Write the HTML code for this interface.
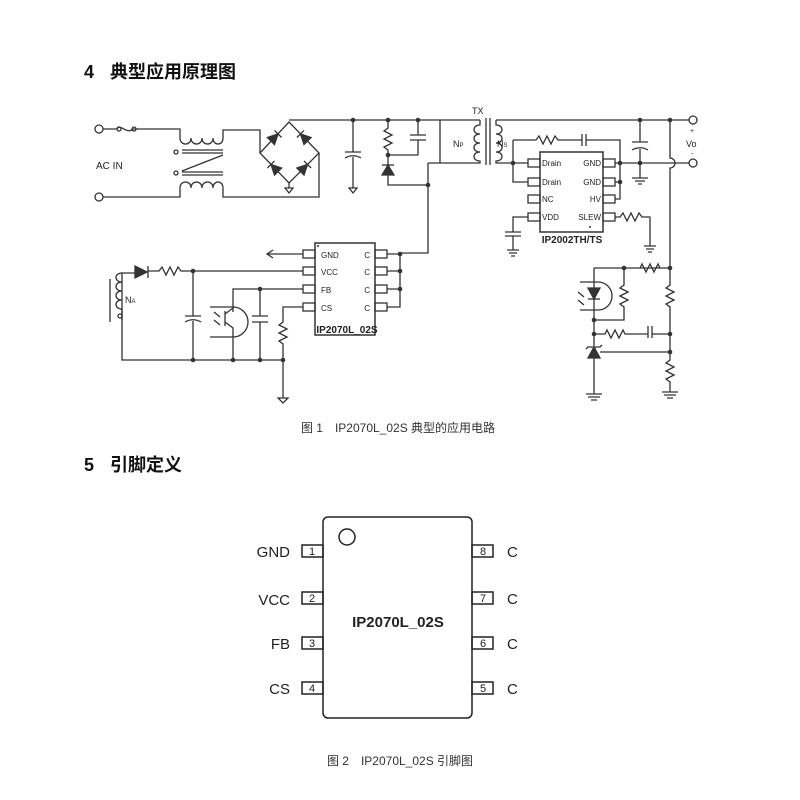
<!DOCTYPE html>
<html><head><meta charset="utf-8"><style>
body{margin:0;background:#fff;width:800px;height:800px;overflow:hidden}
svg{display:block}
</style></head><body>
<svg width="800" height="800" viewBox="0 0 800 800" font-family="Liberation Sans, Noto Sans CJK SC, sans-serif">
<text x="84" y="78" font-size="18" font-weight="bold" fill="#111">4</text>
<text x="110" y="78" font-size="18" font-weight="bold" fill="#111" font-family="Noto Sans CJK SC, sans-serif">典型应用原理图</text>
<text x="84" y="471" font-size="18" font-weight="bold" fill="#111">5</text>
<text x="110" y="471" font-size="18" font-weight="bold" fill="#111" font-family="Noto Sans CJK SC, sans-serif">引脚定义</text>
<text x="398" y="432" font-size="12" fill="#333" text-anchor="middle" font-family="Liberation Sans, Noto Sans CJK SC, sans-serif">图 1　IP2070L_02S 典型的应用电路</text>
<text x="400" y="765" font-size="12" fill="#333" text-anchor="middle" font-family="Liberation Sans, Noto Sans CJK SC, sans-serif">图 2　IP2070L_02S 引脚图</text>

<g stroke="#333" stroke-width="1.3" fill="none">
<circle cx="99" cy="129" r="4"/><circle cx="99" cy="197" r="4"/>
<path d="M103 129H117M117 129c3 -6 10 6 16 0M133 129H180V138"/>
<circle cx="119" cy="129" r="2"/><circle cx="134" cy="129" r="2"/>
<path d="M180 138c0 8 11 8 11 0c0 8 11 8 11 0c0 8 11 8 11 0c0 8 10 8 10 0V130H260V153"/>
<path d="M103 197H180V188c0 -8 11 -8 11 0c0 -8 11 -8 11 0c0 -8 11 -8 11 0c0 -8 10 -8 10 0V197H319V153"/>
<path d="M182 150H223M182 153H223M182 172H223M182 175H223M223 155L182 171"/>
<circle cx="176" cy="152" r="2"/><circle cx="176" cy="173" r="2"/>
<path d="M260 153L289 122L319 153L289 183Z"/>
<path d="M289 183V188"/><path d="M285 188H293L289 193Z"/>
<path d="M289 120H480"/>
<path d="M353 120V152M345 152H361M345 158c5 -3 11 -3 16 0M353 157V188"/><path d="M349 188H357L353 193Z"/>
<path d="M388 120V128l-4 3 8 4 -8 4 8 4 -8 4 4 3V155H418V140M410 140H426M410 135H426M418 135V120M388 155V185H428"/>
<path d="M428 163H440V120M428 163V253H400"/>
<path d="M480 120V125c-8 0 -8 9 0 9c-8 0 -8 9 0 9c-8 0 -8 9 0 9c-8 0 -8 9 0 9V163H440"/>
<path d="M486 118V165M490 118V165"/>
<path d="M496 120V125c8 0 8 9 0 9c8 0 8 9 0 9c8 0 8 9 0 9c8 0 8 9 0 9V163H528"/>
<path d="M496 120H689M513 140V182H528M513 140H536l3 -4 4 8 4 -8 4 8 4 -8 3 4H582M582 134V146M586 134V146M586 140H620V199H615M615 163H689M615 182H620"/>
<path d="M640 120V142M632 142H648M632 150c5 -3 11 -3 16 0M640 149V178M632 178H648M635 181H645M638 184H642"/>
<path d="M670 120V158a5 5 0 0 1 0 10V268"/>
<circle cx="693" cy="120" r="4"/><circle cx="693" cy="163" r="4"/>
<rect x="540" y="152" width="63" height="80" stroke-width="1.5"/>
<rect x="528" y="159" width="12" height="8"/><rect x="528" y="178" width="12" height="8"/><rect x="528" y="195" width="12" height="8"/><rect x="528" y="213" width="12" height="8"/>
<rect x="603" y="159" width="12" height="8"/><rect x="603" y="178" width="12" height="8"/><rect x="603" y="195" width="12" height="8"/><rect x="603" y="213" width="12" height="8"/>
<path d="M528 217H513V232M505 232H521M505 236H521M513 236V250M507 250H519M509 253H517M511 256H515"/>
<path d="M615 217H620l3 -4 4 8 4 -8 4 8 4 -8 3 4H650V246M644 246H656M646 249H654M648 252H652"/>
<rect x="315" y="243" width="60" height="92" stroke-width="1.5"/>
<rect x="303" y="250" width="12" height="8"/><rect x="303" y="267" width="12" height="8"/><rect x="303" y="285" width="12" height="8"/><rect x="303" y="303" width="12" height="8"/>
<rect x="375" y="250" width="12" height="8"/><rect x="375" y="267" width="12" height="8"/><rect x="375" y="285" width="12" height="8"/><rect x="375" y="303" width="12" height="8"/>
<path d="M387 254H400V307H387M387 271H400M387 289H400"/>
<path d="M303 254H268M273 250L267 254L273 258"/>
<path d="M303 271H193M193 271H181l-3 -4 -4 8 -4 -8 -4 8 -4 -8 -3 4H148M122 320V273H135"/>
<path d="M135 266V278L147 272Z" fill="#333"/><path d="M148 266V278"/>
<path d="M122 273c-8 0 -8 9 0 9c-8 0 -8 9 0 9c-8 0 -8 9 0 9c-8 0 -8 9 0 9V320"/>
<path d="M110 279V322"/><circle cx="120" cy="316" r="2"/>
<path d="M122 320V360H283M193 271V316M185 316H201M185 322c5 -3 11 -3 16 0M193 321V360"/>
<path d="M303 289H233V307M260 289V316M252 316H268M252 322H268M260 322V360"/>
<path d="M225 311V326M225 314L233 308V312M225 322L233 328V360M210 307H233a12 12 0 0 1 0 30H210"/>
<path d="M214 312l6 5M214 320l6 5"/>
<path d="M303 307H283V322l-4 3 8 4 -8 4 8 4 -8 4 4 3V398M278 398H288L283 403Z"/>
<path d="M594 268H670M640 268l2 -4 4 8 4 -8 4 8 4 -8 2 4M594 268V334M624 268V285l-4 3 8 4 -8 4 8 4 -8 4 4 3V320H594"/>
<path d="M588 288H600L594 299Z" fill="#333"/><path d="M588 299H600"/>
<path d="M580 282H598a14 14 0 0 1 0 28H580"/><path d="M578 292l6 5M578 300l6 5"/>
<path d="M594 334H605l2 -4 4 8 4 -8 4 8 4 -8 2 4H648M648 326V338M652 326V338M652 334H670"/>
<path d="M670 268V285l-4 3 8 4 -8 4 8 4 -8 4 4 3V352V360l-4 3 8 4 -8 4 8 4 -8 4 4 3V392M662 392H678M664 395H676M667 398H673"/>
<path d="M594 334V346M594 358V394M586 394H602M588 397H600M591 400H597M600 352H670"/>
<path d="M588 358H600L594 347Z" fill="#333"/><path d="M586 349L588 347H600L602 345"/>
</g>
<g fill="#333" stroke="#333" stroke-width="1.3">
<g transform="translate(274.5 137.5) rotate(-45)"><path d="M-5 -5L5 0L-5 5Z"/><path d="M5 -5V5" fill="none"/></g>
<g transform="translate(304 137.5) rotate(-135)"><path d="M-5 -5L5 0L-5 5Z"/><path d="M5 -5V5" fill="none"/></g>
<g transform="translate(274.5 168) rotate(-135)"><path d="M-5 -5L5 0L-5 5Z"/><path d="M5 -5V5" fill="none"/></g>
<g transform="translate(304 168) rotate(-45)"><path d="M-5 -5L5 0L-5 5Z"/><path d="M5 -5V5" fill="none"/></g>
<path d="M388 165L382 175H394Z"/><path d="M382 165H394" fill="none"/>
</g>
<g fill="#333">
<circle cx="353" cy="120" r="2.3"/><circle cx="388" cy="120" r="2.3"/><circle cx="418" cy="120" r="2.3"/><circle cx="388" cy="155" r="2.3"/><circle cx="428" cy="185" r="2.3"/>
<circle cx="513" cy="163" r="2.3"/><circle cx="620" cy="163" r="2.3"/><circle cx="620" cy="182" r="2.3"/><circle cx="640" cy="120" r="2.3"/><circle cx="640" cy="163" r="2.3"/><circle cx="670" cy="120" r="2.3"/>
<circle cx="400" cy="254" r="2.3"/><circle cx="400" cy="271" r="2.3"/><circle cx="400" cy="289" r="2.3"/>
<circle cx="193" cy="271" r="2.3"/><circle cx="260" cy="289" r="2.3"/><circle cx="193" cy="360" r="2.3"/><circle cx="233" cy="360" r="2.3"/><circle cx="260" cy="360" r="2.3"/><circle cx="283" cy="360" r="2.3"/>
<circle cx="624" cy="268" r="2.3"/><circle cx="670" cy="268" r="2.3"/><circle cx="594" cy="320" r="2.3"/><circle cx="594" cy="334" r="2.3"/><circle cx="670" cy="334" r="2.3"/><circle cx="670" cy="352" r="2.3"/>
<circle cx="318" cy="246" r="1"/><circle cx="590" cy="227" r="1"/>
</g>
<g font-size="9" fill="#222">
<text x="96" y="169" font-size="10">AC IN</text>
<text x="472" y="114" font-size="9">TX</text>
<text x="453" y="147">N<tspan font-size="6">P</tspan></text>
<text x="497" y="147">N<tspan font-size="6">S</tspan></text>
<text x="125" y="303">N<tspan font-size="6">A</tspan></text>
<text x="690" y="133" font-size="7">+</text><text x="686" y="147">Vo</text><text x="691" y="156" font-size="7">-</text>
<text x="542" y="166" font-size="8">Drain</text><text x="542" y="185" font-size="8">Drain</text><text x="542" y="202" font-size="8">NC</text><text x="542" y="220" font-size="8">VDD</text>
<text x="601" y="166" font-size="8" text-anchor="end">GND</text><text x="601" y="185" font-size="8" text-anchor="end">GND</text><text x="601" y="202" font-size="8" text-anchor="end">HV</text><text x="601" y="220" font-size="8" text-anchor="end">SLEW</text>
<text x="572" y="243" font-size="10" font-weight="bold" text-anchor="middle">IP2002TH/TS</text>
<text x="321" y="258" font-size="8">GND</text><text x="321" y="275" font-size="8">VCC</text><text x="321" y="293" font-size="8">FB</text><text x="321" y="311" font-size="8">CS</text>
<text x="370" y="258" font-size="8" text-anchor="end">C</text><text x="370" y="275" font-size="8" text-anchor="end">C</text><text x="370" y="293" font-size="8" text-anchor="end">C</text><text x="370" y="311" font-size="8" text-anchor="end">C</text>
<text x="347" y="333" font-size="10" font-weight="bold" text-anchor="middle">IP2070L_02S</text>
</g>
<g stroke="#222" stroke-width="1.5" fill="none">
<rect x="323" y="517" width="149" height="201" rx="5"/>
<circle cx="347" cy="537" r="8"/>
<rect x="302" y="545" width="21" height="12"/><rect x="302" y="592" width="21" height="12"/><rect x="302" y="637" width="21" height="12"/><rect x="302" y="682" width="21" height="12"/>
<rect x="472" y="545" width="21" height="12"/><rect x="472" y="592" width="21" height="12"/><rect x="472" y="637" width="21" height="12"/><rect x="472" y="682" width="21" height="12"/>
</g>
<g fill="#222" font-size="11">
<text x="312" y="555" text-anchor="middle">1</text><text x="312" y="602" text-anchor="middle">2</text><text x="312" y="647" text-anchor="middle">3</text><text x="312" y="692" text-anchor="middle">4</text>
<text x="483" y="555" text-anchor="middle">8</text><text x="483" y="602" text-anchor="middle">7</text><text x="483" y="647" text-anchor="middle">6</text><text x="483" y="692" text-anchor="middle">5</text>
<g font-size="15"><text x="290" y="557" text-anchor="end">GND</text><text x="290" y="605" text-anchor="end">VCC</text><text x="290" y="649" text-anchor="end">FB</text><text x="290" y="694" text-anchor="end">CS</text>
<text x="507" y="557">C</text><text x="507" y="604">C</text><text x="507" y="649">C</text><text x="507" y="694">C</text></g>
<text x="398" y="627" font-size="15" font-weight="bold" text-anchor="middle">IP2070L_02S</text>
</g>
</svg>
</body></html>
